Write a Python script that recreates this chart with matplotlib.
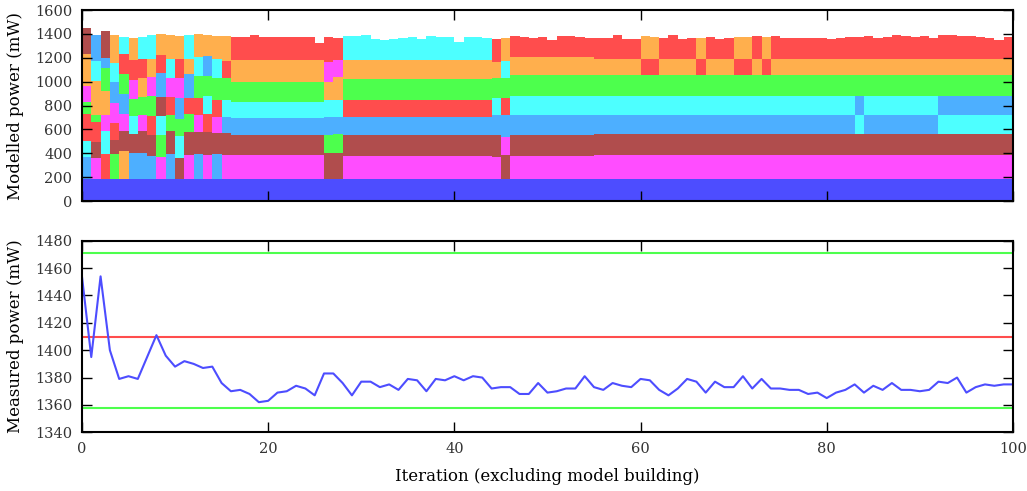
import matplotlib
matplotlib.use('Agg')
import matplotlib.pyplot as plt

plt.rcParams['font.family'] = ['DejaVu Serif']
plt.rcParams['font.size'] = 10.5

# component colours
palette = {
    'B': '#4d4dff',  # blue
    'M': '#ff4dff',  # magenta
    'K': '#b04d4d',  # brown
    'L': '#4dafff',  # light blue
    'C': '#4dffff',  # cyan
    'G': '#4dff4d',  # green
    'O': '#ffaf4d',  # orange
    'R': '#ff4d4d',  # red
}

# stacking order of the components for each iteration (bottom -> top)
STD = 'BMKLCGOR'
orders = (
    ['BLCRGMOK', 'BMKRGOCL', 'BRCMOGLK', 'BGKRMLCO', 'BOKMLGRC',
     'BLKCGMRO', 'BLKMGORC', 'BLKRGMOC', 'BMGCKLRO', 'BLKGRMCO',
     'BKCGLMRO', 'BMKGRLOC', 'BLKMRGCO', 'BMKRCGLO', 'BLKMRGCO',
     'BMKLCGRO']
    + [STD] * 10
    + ['BKGLCOMR', 'BKGLCOMR']
    + ['BMKLRGOC'] * 16
    + [STD, 'BKMLRGCO']
    + [STD] * 14
    + ['BMKLCGRO', 'BMKLCGRO', STD, STD, STD, STD, 'BMKLCGRO', STD, STD, STD,
       'BMKLCGRO', 'BMKLCGRO', STD, 'BMKLCGRO']
    + [STD] * 9
    + ['BMKCLGOR']
    + [STD] * 8
    + ['BMKCLGOR'] * 8
)

# cumulative top of each stacked segment (mW), one row per iteration
bounds = [
    [183, 371, 505, 729, 832, 963, 1228, 1446],
    [183, 357, 497, 664, 720, 1005, 1175, 1390],
    [183, 394, 586, 720, 921, 1117, 1195, 1424],
    [183, 394, 511, 650, 818, 994, 1153, 1390],
    [183, 419, 586, 729, 896, 1064, 1231, 1371],
    [183, 399, 561, 715, 854, 1013, 1181, 1362],
    [183, 405, 586, 720, 874, 1027, 1189, 1376],
    [183, 377, 553, 712, 879, 1036, 1189, 1390],
    [183, 371, 553, 715, 874, 1069, 1223, 1399],
    [183, 394, 586, 720, 874, 1027, 1189, 1390],
    [183, 363, 547, 687, 860, 1027, 1189, 1382],
    [183, 385, 581, 729, 860, 1064, 1189, 1390],
    [183, 394, 581, 720, 860, 1047, 1203, 1399],
    [183, 385, 581, 729, 879, 1047, 1214, 1390],
    [183, 394, 567, 706, 846, 1027, 1189, 1382],
    [183, 385, 567, 701, 846, 1027, 1175, 1382],
    [183, 385, 553, 692, 832, 1000, 1181, 1376],
    [183, 385, 553, 692, 832, 1000, 1181, 1371],
    [183, 385, 553, 692, 832, 1000, 1181, 1390],
    [183, 385, 553, 692, 832, 1000, 1181, 1371],
    [183, 385, 553, 692, 832, 1000, 1181, 1376],
    [183, 385, 553, 692, 832, 1000, 1181, 1371],
    [183, 385, 553, 692, 832, 1000, 1181, 1371],
    [183, 385, 553, 692, 832, 1000, 1181, 1376],
    [183, 385, 553, 692, 832, 1000, 1181, 1376],
    [183, 385, 553, 692, 832, 1000, 1181, 1321],
    [183, 399, 553, 706, 846, 1000, 1167, 1376],
    [183, 399, 558, 706, 846, 1036, 1181, 1368],
    [183, 380, 553, 706, 850, 1020, 1181, 1382],
    [183, 380, 553, 706, 850, 1020, 1181, 1382],
    [183, 380, 553, 706, 850, 1020, 1181, 1390],
    [183, 380, 553, 706, 850, 1020, 1181, 1357],
    [183, 380, 553, 706, 850, 1020, 1181, 1348],
    [183, 380, 553, 706, 850, 1020, 1181, 1357],
    [183, 380, 553, 706, 850, 1020, 1181, 1362],
    [183, 380, 553, 706, 850, 1020, 1181, 1371],
    [183, 380, 553, 706, 850, 1020, 1181, 1357],
    [183, 380, 553, 706, 850, 1020, 1181, 1382],
    [183, 380, 553, 706, 850, 1020, 1181, 1376],
    [183, 380, 553, 706, 850, 1020, 1181, 1376],
    [183, 380, 553, 706, 850, 1020, 1181, 1335],
    [183, 380, 553, 706, 850, 1020, 1181, 1376],
    [183, 380, 553, 706, 850, 1020, 1181, 1371],
    [183, 380, 553, 706, 850, 1020, 1181, 1362],
    [183, 371, 553, 720, 860, 1027, 1167, 1357],
    [183, 385, 539, 721, 860, 1027, 1175, 1362],
    [183, 377, 553, 720, 879, 1055, 1205, 1382],
    [183, 377, 553, 720, 879, 1055, 1205, 1376],
    [183, 377, 553, 720, 879, 1055, 1205, 1368],
    [183, 377, 553, 720, 879, 1055, 1205, 1376],
    [183, 377, 553, 720, 879, 1055, 1205, 1348],
    [183, 377, 553, 720, 879, 1055, 1205, 1382],
    [183, 377, 553, 720, 879, 1055, 1205, 1382],
    [183, 377, 553, 720, 879, 1055, 1205, 1376],
    [183, 377, 553, 720, 879, 1055, 1205, 1368],
    [183, 385, 565, 720, 879, 1058, 1192, 1368],
    [183, 385, 565, 720, 879, 1058, 1192, 1368],
    [183, 385, 565, 720, 879, 1058, 1192, 1390],
    [183, 385, 565, 720, 879, 1058, 1192, 1357],
    [183, 385, 565, 720, 879, 1058, 1192, 1357],
    [183, 385, 565, 720, 879, 1058, 1192, 1382],
    [183, 385, 565, 720, 879, 1058, 1192, 1376],
    [183, 385, 565, 720, 879, 1058, 1192, 1368],
    [183, 385, 565, 720, 879, 1058, 1192, 1390],
    [183, 385, 565, 720, 879, 1058, 1192, 1357],
    [183, 385, 565, 720, 879, 1058, 1192, 1368],
    [183, 385, 565, 720, 879, 1058, 1192, 1368],
    [183, 385, 565, 720, 879, 1058, 1192, 1376],
    [183, 385, 565, 720, 879, 1058, 1192, 1357],
    [183, 385, 565, 720, 879, 1058, 1192, 1368],
    [183, 385, 565, 720, 879, 1058, 1192, 1376],
    [183, 385, 565, 720, 879, 1058, 1192, 1376],
    [183, 385, 565, 720, 879, 1058, 1192, 1382],
    [183, 385, 565, 720, 879, 1058, 1192, 1371],
    [183, 385, 565, 720, 879, 1058, 1192, 1382],
    [183, 385, 565, 720, 879, 1058, 1192, 1368],
    [183, 385, 565, 720, 879, 1058, 1192, 1368],
    [183, 385, 565, 720, 879, 1058, 1192, 1368],
    [183, 385, 565, 720, 879, 1058, 1192, 1368],
    [183, 385, 565, 720, 879, 1058, 1192, 1362],
    [183, 385, 565, 720, 879, 1058, 1192, 1357],
    [183, 385, 565, 720, 879, 1058, 1192, 1368],
    [183, 385, 565, 720, 879, 1058, 1192, 1376],
    [183, 385, 565, 720, 879, 1058, 1192, 1376],
    [183, 385, 565, 720, 879, 1058, 1192, 1382],
    [183, 385, 565, 720, 879, 1058, 1192, 1368],
    [183, 385, 565, 720, 879, 1058, 1192, 1376],
    [183, 385, 565, 720, 879, 1058, 1192, 1390],
    [183, 385, 565, 720, 879, 1058, 1192, 1382],
    [183, 385, 565, 720, 879, 1058, 1192, 1376],
    [183, 385, 565, 720, 879, 1058, 1192, 1382],
    [183, 385, 565, 720, 879, 1058, 1192, 1368],
    [183, 385, 565, 720, 879, 1058, 1192, 1390],
    [183, 385, 565, 720, 879, 1058, 1192, 1390],
    [183, 385, 565, 720, 879, 1058, 1192, 1385],
    [183, 385, 565, 720, 879, 1058, 1192, 1382],
    [183, 385, 565, 720, 879, 1058, 1192, 1371],
    [183, 385, 565, 720, 879, 1058, 1192, 1362],
    [183, 385, 565, 720, 879, 1058, 1192, 1348],
    [183, 385, 565, 720, 879, 1058, 1192, 1376],
]

# measured power per iteration (mW)
measured = [
    1454, 1395, 1454, 1400, 1379, 1381, 1379, 1395, 1411, 1396,
    1388, 1392, 1390, 1387, 1388, 1376, 1370, 1371, 1368, 1362,
    1363, 1369, 1370, 1374, 1372, 1367, 1383, 1383, 1376, 1367,
    1377, 1377, 1373, 1375, 1371, 1379, 1378, 1370, 1379, 1378,
    1381, 1378, 1381, 1380, 1372, 1373, 1373, 1368, 1368, 1376,
    1369, 1370, 1372, 1372, 1381, 1373, 1371, 1376, 1374, 1373,
    1379, 1378, 1371, 1367, 1372, 1379, 1377, 1369, 1377, 1373,
    1373, 1381, 1372, 1379, 1372, 1372, 1371, 1371, 1368, 1369,
    1365, 1369, 1371, 1375, 1369, 1374, 1371, 1376, 1371, 1371,
    1370, 1371, 1377, 1376, 1380, 1369, 1373, 1375, 1374, 1375,
    1375,
]
upper_limit = 1471
mean_level = 1410
lower_limit = 1358

fig = plt.figure(figsize=(10.27, 4.91), dpi=100)
ax1 = fig.add_axes([0.0798, 0.5906, 0.9065, 0.389])
ax2 = fig.add_axes([0.0798, 0.1196, 0.9065, 0.390])

# --- stacked bars ---
x = list(range(len(bounds)))
for level in range(8):
    bottoms = [row[level - 1] if level > 0 else 0 for row in bounds]
    heights = [row[level] - b for row, b in zip(bounds, bottoms)]
    cols = [palette[o[level]] for o in orders]
    ax1.bar(x, heights, bottom=bottoms, width=1.0, align='edge',
            color=cols, linewidth=0, antialiased=False)

ax1.set_xlim(0, 100)
ax1.set_ylim(0, 1600)
ax1.set_yticks(range(0, 1601, 200))
ax1.set_xticks(range(0, 101, 20))
ax1.set_xticklabels([])
ax1.set_ylabel('Modelled power (mW)', fontsize=12)

# --- measured line ---
ax2.axhline(upper_limit, color='#4dff4d', lw=1.5)
ax2.axhline(lower_limit, color='#4dff4d', lw=1.5)
ax2.axhline(mean_level, color='#ff4d4d', lw=1.5)
ax2.plot(range(len(measured)), measured, color='#4d4dff', lw=1.5)
ax2.set_xlim(0, 100)
ax2.set_ylim(1340, 1480)
ax2.set_yticks(range(1340, 1481, 20))
ax2.set_xticks(range(0, 101, 20))
ax2.set_ylabel('Measured power (mW)', fontsize=12)
ax2.set_xlabel('Iteration (excluding model building)', fontsize=12, labelpad=9)

for ax in (ax1, ax2):
    ax.tick_params(direction='in', length=7, width=1, top=True, right=True,
                   pad=7, colors='black', labelcolor='#333333')
    for s in ax.spines.values():
        s.set_linewidth(1.5)
    ax.yaxis.set_label_coords(-0.062, 0.5)

plt.savefig('out.png', dpi=100)
